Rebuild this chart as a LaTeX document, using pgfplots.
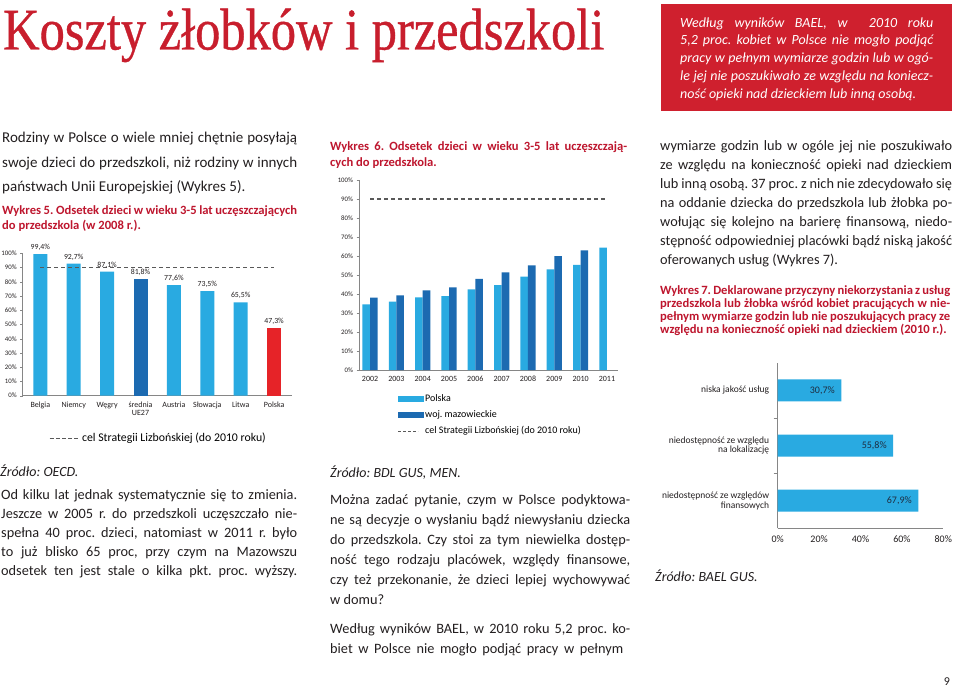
\documentclass[border=0pt]{standalone}
\usepackage{pgfplots}
\pgfplotsset{compat=1.18}
\usepackage{fontspec}
\setmainfont{Carlito}
\newfontfamily\titlefont[FakeBold=0.7]{Liberation Serif}
\usepackage{graphicx}
\frenchspacing
\pgfplotsset{/pgf/number format/assume math mode=true}
\newcommand{\fs}[1]{\fontsize{#1}{#1}\selectfont}
\definecolor{lblue}{RGB}{41,170,225}
\definecolor{dblue}{RGB}{28,106,177}
\definecolor{pred}{RGB}{230,35,40}
\definecolor{titlered}{RGB}{200,30,45}
\definecolor{boxred}{RGB}{207,32,46}
\definecolor{headred}{RGB}{190,22,46}
\definecolor{txt}{RGB}{35,31,32}
\definecolor{axisgray}{RGB}{134,134,134}
\definecolor{dashgray}{RGB}{89,89,89}
\definecolor{navy}{RGB}{30,45,65}
\newcommand{\jl}[4]{\node[anchor=base west, inner sep=0pt] at (#1,#2) {\makebox[#3pt][s]{#4}};}
\newcommand{\lj}[3]{\node[anchor=base west, inner sep=0pt] at (#1,#2) {#3};}
\pgfplotsset{pctnode/.style={point meta=#1, nodes near coords={\pgfmathprintnumber[fixed,fixed zerofill,precision=1,use comma]{\pgfplotspointmeta}\%}}}
\begin{document}
\begin{tikzpicture}
\path[use as bounding box, fill=white] (0pt,0pt) rectangle (960pt,-690pt);
\begin{scope}[x=1pt,y=-1pt]
% title and red box
\node[anchor=base west, inner sep=0pt, text=titlered] at (3,49.5) {\resizebox{601pt}{41pt}{\titlefont Koszty żłobków i przedszkoli}};
\fill[boxred] (661,4) rectangle (952,111);
\begin{scope}[every node/.style={font=\fs{14}\itshape, text=white}]
\jl{680}{27.5}{253}{Według wyników BAEL, w \ 2010 roku}
\jl{680}{45}{253}{5,2 proc. kobiet w Polsce nie mogło podjąć}
\jl{680}{63}{253}{pracy w pełnym wymiarze godzin lub w ogó-}
\jl{680}{81}{253}{le jej nie poszukiwało ze względu na koniecz-}
\lj{680}{99}{ność opieki nad dzieckiem lub inną osobą.}
\end{scope}
% left column
\begin{scope}[every node/.style={font=\fs{15}, text=txt}]
\jl{2}{142}{295}{Rodziny w Polsce o wiele mniej chętnie posyłają}
\jl{2}{167}{295}{swoje dzieci do przedszkoli, niż rodziny w innych}
\lj{2}{191.5}{państwach Unii Europejskiej (Wykres 5).}
\end{scope}
\begin{scope}[every node/.style={font=\fs{12.6}\bfseries, text=headred}]
\jl{2}{214}{295}{Wykres 5. Odsetek dzieci w wieku 3-5 lat uczęszczających}
\lj{2}{229}{do przedszkola (w 2008 r.).}
\jl{330}{150}{297}{Wykres 6. Odsetek dzieci w wieku 3-5 lat uczęszczają-}
\lj{330}{166}{cych do przedszkola.}
\jl{660}{294}{290}{Wykres 7. Deklarowane przyczyny niekorzystania z usług}
\jl{660}{307}{290}{przedszkola lub żłobka wśród kobiet pracujących w nie-}
\jl{660}{320}{290}{pełnym wymiarze godzin lub nie poszukujących pracy ze}
\lj{660}{333}{względu na konieczność opieki nad dzieckiem (2010 r.).}
\end{scope}
\begin{scope}[every node/.style={font=\fs{14}\itshape, text=txt}]
\lj{0}{476}{Źródło: OECD.}
\lj{330}{477.5}{Źródło: BDL GUS, MEN.}
\lj{655}{581}{Źródło: BAEL GUS.}
\end{scope}
\begin{scope}[every node/.style={font=\fs{14.3}, text=txt}]
\jl{1}{499}{296}{Od kilku lat jednak systematycznie się to zmienia.}
\jl{1}{518.5}{296}{Jeszcze w 2005 r. do przedszkoli uczęszczało nie-}
\jl{1}{537.5}{296}{spełna 40 proc. dzieci, natomiast w 2011 r. było}
\jl{1}{556.5}{296}{to już blisko 65 proc, przy czym na Mazowszu}
\jl{1}{575.5}{296}{odsetek ten jest stale o kilka pkt. proc. wyższy.}
\jl{330}{504}{300}{Można zadać pytanie, czym w Polsce podyktowa-}
\jl{330}{524.5}{300}{ne są decyzje o wysłaniu bądź niewysłaniu dziecka}
\jl{330}{544.5}{300}{do przedszkola. Czy stoi za tym niewielka dostęp-}
\jl{330}{564.5}{300}{ność tego rodzaju placówek, względy finansowe,}
\jl{330}{584.5}{300}{czy też przekonanie, że dzieci lepiej wychowywać}
\lj{330}{604.5}{w domu?}
\jl{330}{633.5}{300}{Według wyników BAEL, w 2010 roku 5,2 proc. ko-}
\jl{330}{653.5}{293}{biet w Polsce nie mogło podjąć pracy w pełnym}
\jl{660}{150}{292}{wymiarze godzin lub w ogóle jej nie poszukiwało}
\jl{660}{169}{292}{ze względu na konieczność opieki nad dzieckiem}
\jl{660}{188}{292}{lub inną osobą. 37 proc. z nich nie zdecydowało się}
\jl{660}{207}{292}{na oddanie dziecka do przedszkola lub żłobka po-}
\jl{660}{226}{292}{wołując się kolejno na barierę finansową, niedo-}
\jl{660}{245}{292}{stępność odpowiedniej placówki bądź niską jakość}
\lj{660}{264}{oferowanych usług (Wykres 7).}
\node[anchor=base, inner sep=0pt, font=\fs{12}] at (947,685) {9};
\end{scope}
\end{scope}

% Chart 1
\begin{axis}[
 at={(22.7pt,-395.7pt)}, anchor=south west, scale only axis,
 width=269pt, height=142.4pt,
 xmin=-0.527, xmax=7.527, ymin=0, ymax=100,
 axis lines*=left, axis line style={draw=axisgray, line width=0.6pt},
 ytick={0,10,...,100}, yticklabel={\pgfmathprintnumber{\tick}\%},
 yticklabel style={font=\fs{6.8}, text=txt},
 xtick={0,...,7},
 xticklabels={Belgia,Niemcy,Węgry,{średnia\\UE27},Austria,Słowacja,Litwa,Polska},
 xticklabel style={font=\fs{8}, align=center, text=txt},
 typeset ticklabels with strut,
 xtick style={draw=none}, ytick style={draw=axisgray},
 tick align=outside, major tick length=2.5pt,
 every node near coord/.append style={font=\fs{7.8}, text=txt},
 legend style={at={(0.098,-0.299)}, anchor=west, draw=none, fill=none, font=\fs{11.8}, inner sep=0pt},
 legend cell align=left, clip=false,
]
\addplot[ybar, bar width=14pt, bar shift=0pt, fill=lblue, draw=none, forget plot, pctnode=y] coordinates {(0,99.4) (1,92.7) (2,87.1) (4,77.6) (5,73.5) (6,65.5)};
\addplot[ybar, bar width=14pt, bar shift=0pt, fill=dblue, draw=none, forget plot, pctnode=y] coordinates {(3,81.8)};
\addplot[ybar, bar width=14pt, bar shift=0pt, fill=pred, draw=none, forget plot, pctnode=y] coordinates {(7,47.3)};
\addplot[dashgray, line width=1.3pt, dash pattern=on 4pt off 3pt, legend image code/.code={\draw[dashgray, line width=0.8pt, dash pattern=on 4pt off 2.2pt] (0pt,0pt) -- (30pt,0pt);}] coordinates {(0,90) (7,90)};
\addlegendentry{cel Strategii Lizbońskiej (do 2010 roku)}
\end{axis}

% Chart 2
\begin{axis}[
 at={(359pt,-370pt)}, anchor=south west, scale only axis,
 width=259pt, height=190pt,
 xmin=-0.42, xmax=9.42, ymin=0, ymax=100,
 axis lines*=left, axis line style={draw=axisgray, line width=0.6pt},
 ytick={0,10,...,100}, yticklabel={\pgfmathprintnumber{\tick}\%},
 yticklabel style={font=\fs{6.8}, text=txt},
 xtick={0,...,9},
 xticklabels={2002,2003,2004,2005,2006,2007,2008,2009,2010,2011},
 xticklabel style={font=\fs{8}, text=txt},
 typeset ticklabels with strut,
 xtick style={draw=none}, ytick style={draw=axisgray},
 tick align=outside, major tick length=2.5pt,
 legend style={at={(0.149,-0.125)}, anchor=north west, draw=none, fill=none, font=\fs{10}, inner sep=0pt, row sep=5pt, nodes={inner sep=1pt, text height=7pt, text depth=2pt}},
 legend cell align=left, clip=false,
]
\addplot[ybar, bar width=7.6pt, bar shift=-3.8pt, fill=lblue, draw=none, legend image code/.code={\fill[lblue] (0pt,-3pt) rectangle (26pt,3pt);}] coordinates {(0,34.6) (1,36.0) (2,38.2) (3,38.9) (4,42.5) (5,44.7) (6,49.1) (7,53.0) (8,55.3) (9,64.4)};
\addlegendentry{Polska}
\addplot[ybar, bar width=7.6pt, bar shift=3.8pt, fill=dblue, draw=none, legend image code/.code={\fill[dblue] (0pt,-3pt) rectangle (26pt,3pt);}] coordinates {(0,38.1) (1,39.3) (2,41.9) (3,43.5) (4,47.9) (5,51.4) (6,55.1) (7,60.0) (8,63.0)};
\addlegendentry{woj. mazowieckie}
\addplot[dashgray, line width=1.3pt, dash pattern=on 4pt off 3pt, legend image code/.code={\draw[dashgray, line width=0.8pt, dash pattern=on 3pt off 2pt] (0pt,0pt) -- (20pt,0pt);}] coordinates {(0,90) (9,90)};
\addlegendentry{cel Strategii Lizbońskiej (do 2010 roku)}
\end{axis}

% Chart 3
\begin{axis}[
 at={(777.7pt,-528.3pt)}, anchor=south west, scale only axis,
 width=165.6pt, height=165.5pt,
 xmin=0, xmax=80, ymin=-0.5, ymax=2.5,
 axis lines*=left, axis line style={draw=axisgray, line width=0.6pt},
 xtick={0,20,...,80}, xticklabel={\pgfmathprintnumber{\tick}\%},
 xticklabel style={font=\fs{10}, text=txt, yshift=-4pt},
 xtick style={draw=none},
 ytick={0,1,2},
 yticklabels={{niedostępność ze względów\\finansowych},{niedostępność ze względu\\na lokalizację},{niska jakość usług}},
 yticklabel style={font=\fs{9.5}, align=right, text=txt, xshift=-5pt},
 ytick style={draw=axisgray}, major tick length=0pt,
 minor ytick={0.5,1.5}, minor tick length=4pt, tick align=outside,
 clip=false,
]
\addplot[xbar, bar width=22pt, bar shift=0pt, fill=lblue, draw=none, pctnode=x, every node near coord/.append style={anchor=east, xshift=-3pt, font=\fs{10}, text=navy}] coordinates {(67.9,0) (55.8,1) (30.7,2)};
\end{axis}
\end{tikzpicture}
\end{document}
